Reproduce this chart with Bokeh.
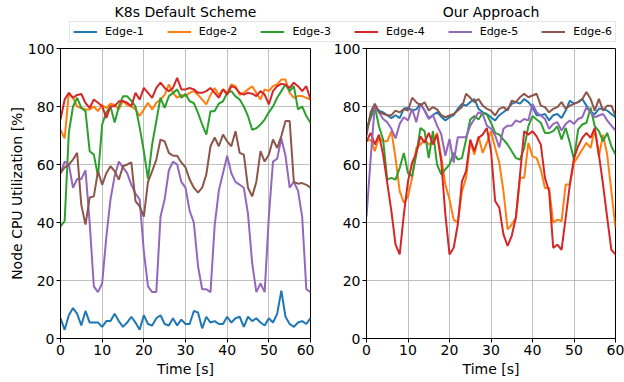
from bokeh.plotting import figure
from bokeh.layouts import column, row
from bokeh.models import Range1d, FixedTicker, Legend, LegendItem, Label
from bokeh.embed import file_html
from bokeh.resources import INLINE

# ---------------- data ----------------
time_s = list(range(61))
series_names = ["Edge-1", "Edge-2", "Edge-3", "Edge-4", "Edge-5", "Edge-6"]
series_colors = ["#1f77b4", "#ff7f0e", "#2ca02c", "#d62728", "#9467bd", "#8c564b"]
panel_titles = ["K8s Default Scheme", "Our Approach"]
x_ticks = [0, 10, 20, 30, 40, 50, 60]
y_ticks = [0, 20, 40, 60, 80, 100]
x_label = "Time [s]"
y_label = "Node CPU Utilization [%]"

# K8s default scheme
k8s_edge1 = [7, 3, 8, 10.5, 8.5, 4.5, 9.5, 5.5, 5.5, 5.5,
             4, 6, 6, 8.5, 6, 4, 5.5, 7.5, 5.5, 3,
             8, 5, 4.5, 7, 8, 5, 4.5, 7, 4.5, 6.5,
             5, 5, 9.5, 9, 3.5, 7.5, 5.5, 6, 5, 5,
             7.5, 5.5, 7, 7.5, 4, 7.5, 6, 7, 5.5, 4.5,
             7, 5.5, 8.5, 16.5, 7.5, 5, 4, 5.5, 6, 5, 7]
k8s_edge2 = [72, 69, 84.7, 83, 80, 79.5, 79, 79, 80, 78.4,
             80.5, 79.5, 81, 80.5, 79, 82, 80.5, 80, 79, 76.7,
             79, 81.3, 79, 81.3, 82.4, 84, 87.6, 84.7, 83, 84,
             83.6, 84.7, 85.3, 84, 82.4, 80.7, 84, 86.4, 84, 85.9,
             84.7, 87.6, 87, 84, 84.7, 85.9, 87, 84.7, 82.4, 85.9,
             85.3, 87, 87.6, 89.3, 89.3, 84.7, 83, 83.6, 83.6, 83, 82.4]
k8s_edge3 = [38.7, 40.5, 71, 80, 83, 79.5, 78.4, 64.6, 63.4, 56,
             73.8, 78, 80, 74.5, 80, 83.5, 83.5, 82, 80, 72.8,
             64.6, 55, 67, 75, 83, 79.5, 83.5, 84.7, 85.9, 83,
             84.3, 81.8, 81.2, 77.8, 73.8, 70.3, 78.4, 78.4, 81, 81.8,
             84.7, 85.3, 83.5, 82.4, 80, 76.7, 72, 72.5, 73.8, 75.5,
             78, 80, 83, 85.3, 87.6, 85.3, 87, 79, 80, 76.7, 74.4]
k8s_edge4 = [75.5, 82.4, 84.7, 83, 84, 84.3, 81.2, 79.5, 82.4, 81.3,
             80.1, 76.1, 80.1, 80.1, 81.8, 81.8, 81.3, 80.1, 84.7, 82.4,
             86.4, 84.7, 83, 86.4, 88.2, 86.4, 85.3, 86.4, 89.9, 85.9,
             85.9, 86.4, 85.9, 84.7, 84.7, 85.3, 86.4, 84.7, 83, 85.9,
             84.1, 87, 86.4, 84.7, 84.1, 84.7, 84.4, 83.6, 85.3, 84.1,
             80.7, 85.3, 87, 87.8, 87.6, 86.4, 88.2, 87, 85.3, 87, 82.4]
k8s_edge5 = [57, 61, 60, 52, 55, 55, 58, 40, 18, 16,
             19, 35, 48, 56, 61, 59, 57, 53, 50, 48,
             30, 18, 16, 16, 42, 48, 58, 61, 60, 54,
             52, 44, 40, 25, 17, 17, 16, 39, 51, 57,
             63, 57, 54, 53, 52, 43, 26, 16, 19, 16,
             42, 61, 62, 69, 63, 52, 54, 51, 42, 17, 16]
k8s_edge6 = [57, 59, 60, 61.7, 64, 46, 39.3, 48.6, 49, 57.7,
             53, 57, 59.4, 57.7, 54.8, 59.4, 60, 60.7, 47.4, 45.6,
             42, 54, 57.7, 61.7, 68.6, 68, 64, 63, 63, 60.7,
             59, 54.8, 52, 50.3, 52, 56.6, 66.3, 69.3, 66.3, 70.3,
             68, 66.3, 71.5, 64, 63.4, 52, 49, 54, 64.6, 61,
             63.4, 68.6, 65.7, 69.8, 75, 75, 54, 53.4, 53.6, 53, 52]

# Our approach
our_edge1 = [72, 76, 80, 78.6, 78, 77, 76, 77, 76, 79.3,
             79.5, 78.6, 79, 81, 78.6, 76, 77, 78, 76.5, 75.2,
             76.3, 77, 79.2, 80.9, 80.3, 81.5, 82.6, 79.2, 78, 77.4,
             76.3, 75.2, 77, 78, 79.2, 80.9, 81.5, 81, 82.6, 81.5,
             79.8, 77, 77, 77.4, 75.2, 77, 77.4, 76, 78.6, 82,
             81, 81.5, 82.6, 80.3, 78, 77.4, 79.2, 79.2, 78.6, 77.4, 76.3]
our_edge2 = [68, 68.6, 64.6, 69.2, 68, 68, 71.5, 62.2, 50.8, 46.8,
             49, 55.4, 65.7, 66.9, 68.6, 66.9, 68, 70.9, 62.8, 53.1,
             48, 41, 39.9, 50.8, 55.4, 68, 63.4, 69.7, 64, 67.5,
             71.5, 65.7, 60.6, 50.8, 37.6, 39.3, 41.7, 55.4, 55.4, 67.5,
             62.8, 62.2, 58.3, 51.9, 51.9, 39.9, 41, 40.5, 53.1, 53.1,
             60.6, 62.8, 65.2, 67.5, 65.7, 72.1, 62.8, 70.3, 63.4, 50.8, 38.2]
our_edge3 = [72, 77, 80, 73.2, 68.6, 54.8, 55.4, 54.8, 58.8, 64,
             57, 56, 63.4, 72.6, 71.5, 62.2, 71.5, 60, 56.6, 58.3,
             60, 64, 61.7, 62.2, 68.6, 75.5, 76.7, 75.5, 77.8, 77.2,
             74.4, 70.9, 70.3, 68.6, 66.9, 64.6, 62.2, 61.7, 65.7, 73.2,
             76.7, 75.5, 74.4, 70.9, 70.9, 71.5, 73.2, 68.6, 72.6, 67.5,
             61.7, 72.1, 73.8, 74.4, 79.6, 73.2, 71.5, 68, 70.9, 66.3, 63.4]
our_edge4 = [68, 70.9, 66.9, 70.3, 63.4, 53.7, 43.9, 32.4, 29, 42.8,
             54.2, 60.6, 64, 69.7, 67.5, 70.9, 66.9, 70.3, 61.2, 42.8,
             29, 31.2, 39.3, 54.2, 57.7, 68.6, 64.6, 69.2, 70.3, 72.6,
             64.6, 47.4, 45.1, 35.9, 31.9, 35.4, 41.7, 56.6, 71.5, 70.3,
             71.5, 69.7, 66.9, 55.4, 50.8, 31.2, 32.4, 30.6, 41.7, 53.1,
             62.2, 66.3, 69.2, 70.9, 69.2, 72.6, 63.4, 53.1, 41.7, 30.6, 29]
our_edge5 = [42, 62, 80.3, 78, 75.7, 74.6, 72.3, 69, 74, 76.3,
             75.2, 79.2, 74.6, 80.9, 78.6, 75.7, 77, 73.4, 70.5, 63,
             68.8, 60.7, 69.4, 69.4, 69.4, 73.4, 75.7, 78, 77.4, 73.4,
             72.3, 70, 65.9, 72.3, 73.4, 73.4, 75.2, 74.6, 75.7, 75.2,
             80.9, 78, 76.9, 75.7, 72.3, 74, 74.6, 71.7, 74, 75.2,
             74, 75.7, 76.3, 79.8, 78, 76.3, 76.9, 77.4, 75.2, 73.4, 71.7]
our_edge6 = [70, 78, 81, 78, 77.5, 77, 77, 78.6, 78, 79,
             78.6, 83, 81.5, 80.3, 81.5, 78.6, 79.8, 79, 77, 76.3,
             76.9, 77.4, 78.6, 79.8, 84.4, 83, 81.5, 82.6, 80.3, 79.2,
             78.6, 76.9, 79.2, 79.8, 78.6, 82, 81.5, 83.2, 84.4, 83.2,
             83.8, 84.4, 80.3, 79.8, 78, 79.2, 79.8, 81.5, 79.2, 80.3,
             80.9, 81.5, 82.6, 85, 82.6, 78.6, 82.6, 78.6, 80.3, 80.3, 76.9]

k8s_series = [k8s_edge1, k8s_edge2, k8s_edge3, k8s_edge4, k8s_edge5, k8s_edge6]
our_series = [our_edge1, our_edge2, our_edge3, our_edge4, our_edge5, our_edge6]

# ---------------- styling / layout ----------------
FONT = "DejaVu Sans"
TOTAL_W = 624
HEADER_H = 42
FRAME_H = 290
BORDER_TOP = 6
BORDER_BOTTOM = 44
L_BORDER_LEFT, L_FRAME_W, L_BORDER_RIGHT = 60, 250, 4
R_BORDER_LEFT, R_FRAME_W, R_BORDER_RIGHT = 52, 249, 9


def make_panel(series, show_ylabel, bl, fw, br):
    p = figure(frame_width=fw, frame_height=FRAME_H,
               x_range=Range1d(0, 60), y_range=Range1d(0, 100),
               output_backend="svg", toolbar_location=None,
               min_border_left=bl, min_border_right=br,
               min_border_top=BORDER_TOP, min_border_bottom=BORDER_BOTTOM)
    xt = FixedTicker(ticks=x_ticks)
    yt = FixedTicker(ticks=y_ticks)
    p.xaxis.ticker = xt
    p.yaxis.ticker = yt
    p.xgrid.ticker = xt
    p.ygrid.ticker = yt
    for g in (p.xgrid, p.ygrid):
        g.grid_line_color = "#b0b0b0"
        g.grid_line_width = 0.8
        g.grid_line_alpha = 1.0
    p.outline_line_color = "black"
    p.outline_line_width = 1
    p.outline_line_alpha = 1
    for ax in (p.xaxis, p.yaxis):
        ax.axis_line_color = "black"
        ax.axis_line_width = 1
        ax.major_tick_line_color = "black"
        ax.major_tick_line_width = 1
        ax.major_tick_out = 4
        ax.major_tick_in = 0
        ax.minor_tick_line_color = None
        ax.major_label_text_font = FONT
        ax.major_label_text_font_size = "14px"
        ax.major_label_text_color = "black"
        ax.major_label_standoff = 2
        ax.axis_label_text_font = FONT
        ax.axis_label_text_font_size = "14px"
        ax.axis_label_text_font_style = "normal"
        ax.axis_label_text_color = "black"
    p.xaxis.axis_label = x_label
    p.xaxis.axis_label_standoff = 3
    if show_ylabel:
        p.yaxis.axis_label = y_label
        p.yaxis.axis_label_standoff = 0
    for ys, c in zip(series, series_colors):
        p.line(time_s, ys, line_color=c, line_width=2)
    p.background_fill_color = "white"
    p.border_fill_color = "white"
    return p


left = make_panel(k8s_series, True, L_BORDER_LEFT, L_FRAME_W, L_BORDER_RIGHT)
right = make_panel(our_series, False, R_BORDER_LEFT, R_FRAME_W, R_BORDER_RIGHT)

# header with panel titles and the shared legend
LEGEND_RIGHT_GAP = 8
header = figure(width=TOTAL_W, height=HEADER_H, title=None,
                x_range=Range1d(0, TOTAL_W - LEGEND_RIGHT_GAP), y_range=Range1d(HEADER_H, 0),
                x_axis_type=None, y_axis_type=None,
                output_backend="svg", toolbar_location=None,
                min_border=0, min_border_right=LEGEND_RIGHT_GAP)
header.outline_line_color = None
header.xgrid.visible = False
header.ygrid.visible = False
header.background_fill_color = "white"
header.border_fill_color = "white"

nan = float("nan")
items = []
for name, c in zip(series_names, series_colors):
    r = header.line(x=[nan], y=[nan], line_color=c, line_width=2)
    items.append(LegendItem(label=name, renderers=[r]))
legend = Legend(items=items, orientation="horizontal", location="bottom_right",
                label_text_font=FONT, label_text_font_size="11px",
                label_text_color="black",
                glyph_width=24, glyph_height=11, label_height=11,
                label_standoff=8, spacing=23, padding=3, margin=0,
                border_line_color="#cccccc", border_line_width=1,
                background_fill_color="white", background_fill_alpha=1)
header.add_layout(legend)

left_center = L_BORDER_LEFT + L_FRAME_W / 2
right_center = L_BORDER_LEFT + L_FRAME_W + L_BORDER_RIGHT + R_BORDER_LEFT + R_FRAME_W / 2
for cx, t in zip([left_center, right_center], panel_titles):
    header.add_layout(Label(x=cx, y=11, text=t, text_align="center",
                            text_baseline="middle", text_font=FONT,
                            text_font_size="14px", text_color="black",
                            level="overlay"))

layout = column(header, row(left, right))

open("out.html", "w").write(file_html(layout, INLINE))
